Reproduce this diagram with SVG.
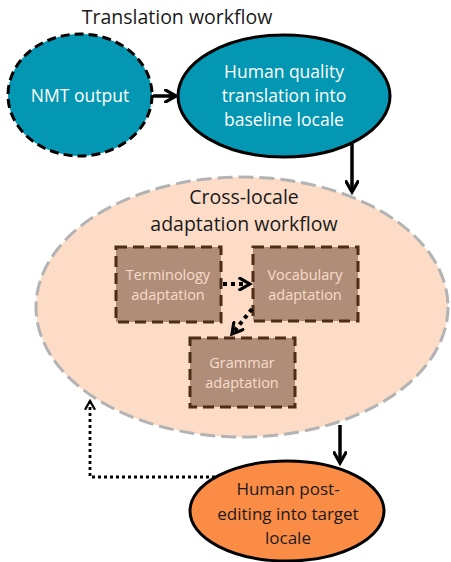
<svg xmlns="http://www.w3.org/2000/svg" width="451" height="562" viewBox="0 0 451 562">
<style>
text{font-family:"Open Sans","Noto Sans","Liberation Sans",sans-serif;text-anchor:middle}
.t18{font-size:19.5px;fill:#1a1a1a}
.w16{font-size:17.5px;fill:#ffffff}
.k16{font-size:17px;fill:#1a1a1a}
.b14{font-size:14.5px;fill:#f6dccb}
.box{fill:#b08d79;stroke:#4b2d18;stroke-width:3;stroke-dasharray:11 6}
.solid{stroke:#000;stroke-width:3.5;fill:none}
.dot{stroke:#000;stroke-width:4;fill:none;stroke-dasharray:4 4}
.dot2{stroke:#000;stroke-width:2.8;fill:none;stroke-dasharray:3 3}
</style>
<defs>
<marker id="ah" viewBox="0 0 10 10" refX="8" refY="5" markerWidth="4.2" markerHeight="4.2" orient="auto" markerUnits="strokeWidth">
<path d="M1,1 L8,5 L1,9" fill="none" stroke="#000" stroke-width="2.2" stroke-linecap="square"/>
</marker>
<marker id="ah3" viewBox="0 0 10 10" refX="8" refY="5" markerWidth="3.6" markerHeight="3.6" orient="auto" markerUnits="strokeWidth">
<path d="M1,1 L8,5 L1,9" fill="none" stroke="#000" stroke-width="2.2" stroke-linecap="square"/>
</marker>
<marker id="ah2" viewBox="0 0 10 10" refX="8" refY="5" markerWidth="4" markerHeight="4" orient="auto" markerUnits="strokeWidth">
<path d="M1,1 L8,5 L1,9" fill="none" stroke="#000" stroke-width="2" stroke-linecap="square"/>
</marker>
</defs>
<text class="t18" x="177" y="24">Translation workflow</text>
<g id="cross-locale">
<ellipse cx="242" cy="307" rx="206" ry="130" fill="#fddcc7" stroke="#b3b3b3" stroke-width="3" stroke-dasharray="15 6"/>
<text class="t18" x="244" y="204">Cross-locale</text>
<text class="t18" x="244" y="231">adaptation workflow</text>
</g>
<g id="nmt">
<ellipse cx="80" cy="95" rx="72" ry="61" fill="#0397b3" stroke="#000" stroke-width="3" stroke-dasharray="9 5"/>
<text class="w16" x="80" y="102">NMT output</text>
</g>
<g id="hq">
<ellipse cx="284" cy="96" rx="106" ry="61" fill="#0397b3" stroke="#000" stroke-width="3"/>
<text class="w16" x="284" y="78">Human quality</text>
<text class="w16" x="284" y="102">translation into</text>
<text class="w16" x="284" y="126">baseline locale</text>
</g>
<g id="terminology">
<rect class="box" x="116" y="247" width="105" height="75"/>
<text class="b14" x="168" y="280">Terminology</text>
<text class="b14" x="168" y="300">adaptation</text>
</g>
<g id="vocabulary">
<rect class="box" x="253" y="247" width="105" height="74"/>
<text class="b14" x="305" y="280">Vocabulary</text>
<text class="b14" x="305" y="300">adaptation</text>
</g>
<g id="grammar">
<rect class="box" x="190" y="338" width="105" height="69"/>
<text class="b14" x="242" y="368">Grammar</text>
<text class="b14" x="242" y="388">adaptation</text>
</g>
<g id="postedit">
<ellipse cx="287" cy="511" rx="97" ry="50" fill="#fb8c46" stroke="#000" stroke-width="3"/>
<text class="k16" x="288" y="495">Human post-</text>
<text class="k16" x="288" y="520">editing into target</text>
<text class="k16" x="288" y="544">locale</text>
</g>
<g id="connectors">
<line class="solid" x1="153" y1="96" x2="176" y2="96" marker-end="url(#ah)"/>
<line class="solid" x1="352" y1="143" x2="352" y2="192" marker-end="url(#ah)"/>
<line class="dot" x1="223" y1="284" x2="250" y2="284" marker-end="url(#ah3)"/>
<line class="dot" x1="252" y1="309" x2="232" y2="334" marker-end="url(#ah3)"/>
<line class="solid" x1="340" y1="425" x2="340" y2="463" marker-end="url(#ah)"/>
<polyline class="dot2" points="215,477 90,477 90,401" marker-end="url(#ah2)"/>
</g>
</svg>
